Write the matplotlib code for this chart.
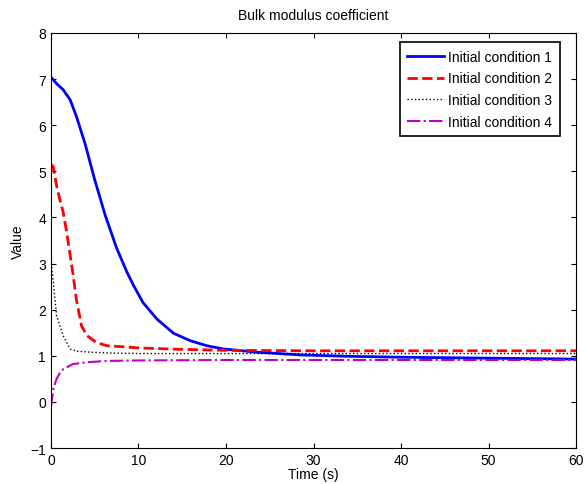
import numpy as np
import matplotlib.pyplot as plt

plt.rcParams['font.family'] = ['Liberation Sans', 'DejaVu Sans']

# Initial condition 1
t1 = [0, 0.3, 0.65, 1.4, 2.2, 2.9, 3.9, 5.0, 6.2, 7.5, 8.65, 9.4, 10.5,
      12.1, 14.0, 15.9, 17.8, 19.7, 23.5, 28.5, 34, 40, 45, 50, 55, 60]
v1 = [7.04, 6.98, 6.9, 6.77, 6.55, 6.2, 5.6, 4.82, 4.05, 3.34, 2.83, 2.54,
      2.16, 1.8, 1.49, 1.33, 1.22, 1.15, 1.08, 1.02, 0.99, 0.97, 0.96, 0.95,
      0.94, 0.93]
# Initial condition 2
t2 = [0, 0.27, 0.65, 1.0, 1.4, 1.8, 2.55, 2.9, 3.5, 4.1, 5.2, 6.4, 10.2, 15,
      20, 30, 40, 50, 60]
v2 = [5.15, 5.1, 4.69, 4.4, 4.12, 3.68, 2.74, 2.23, 1.65, 1.44, 1.29, 1.22,
      1.17, 1.14, 1.12, 1.11, 1.11, 1.11, 1.11]
# Initial condition 3
t3 = [0, 0.1, 0.27, 0.65, 1.4, 2.2, 3.0, 4.5, 7, 10, 20, 30, 40, 50, 60]
v3 = [3.0, 2.9, 2.6, 1.87, 1.44, 1.15, 1.1, 1.08, 1.06, 1.05, 1.05, 1.05,
      1.05, 1.05, 1.05]
# Initial condition 4
t4 = [0, 0.08, 0.3, 0.65, 1.0, 1.4, 2.5, 4.0, 6.4, 10, 20, 30, 40, 50, 60]
v4 = [-0.1, 0.0, 0.3, 0.5, 0.62, 0.71, 0.82, 0.86, 0.89, 0.9, 0.91, 0.91,
      0.91, 0.91, 0.91]

fig = plt.figure(figsize=(5.85, 4.85), dpi=100)
ax = fig.add_axes([0.087, 0.074, 0.898, 0.856])

ax.plot(t1, v1, '-', color='#0000ff', lw=2, label='Initial condition 1')
ax.plot(t2, v2, '--', color='#ff0000', lw=2, label='Initial condition 2')
ax.plot(t3, v3, ':', color='black', lw=1, label='Initial condition 3')
ax.plot(t4, v4, '-.', color='#bf00bf', lw=1.5, label='Initial condition 4')

ax.set_xlim(0, 60)
ax.set_ylim(-1, 8)
ax.set_xticks(np.arange(0, 61, 10))
ax.set_yticks(np.arange(-1, 9, 1))
ax.tick_params(direction='in', top=True, right=True, labelsize=10)
ax.set_xlabel('Time (s)', fontsize=10, labelpad=0)
ax.set_ylabel('Value', fontsize=10)
ax.set_title('Bulk modulus coefficient', fontsize=10, pad=10)

leg = ax.legend(loc='upper right', bbox_to_anchor=(0.9695, 0.978),
                borderaxespad=0, fontsize=10, fancybox=False, framealpha=1,
                edgecolor='black', handlelength=2.6, borderpad=0.55,
                labelspacing=0.55, handletextpad=0.35)
leg.get_frame().set_linewidth(1.2)

fig.savefig('out.png', dpi=100)
